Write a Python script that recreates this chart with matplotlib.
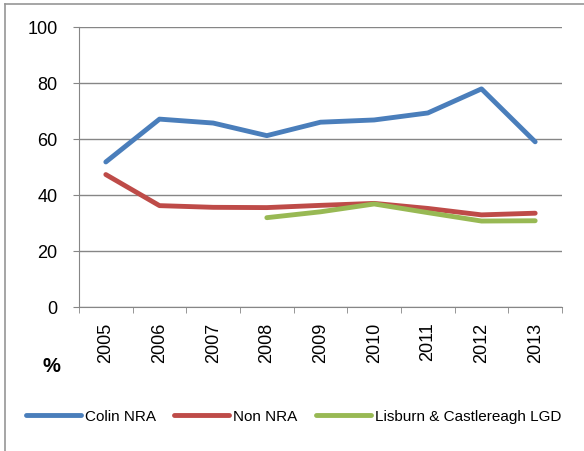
import numpy as np
import matplotlib
matplotlib.use("Agg")
import matplotlib.pyplot as plt
from matplotlib.lines import Line2D

years = ['2005', '2006', '2007', '2008', '2009', '2010', '2011', '2012', '2013']
colin_nra = [51.8, 67.1, 65.7, 61.2, 66, 66.8, 69.3, 77.9, 59]
non_nra = [47.3, 36.2, 35.6, 35.5, 36.3, 37, 35.2, 32.9, 33.5]
lisburn_years = ['2008', '2009', '2010', '2011', '2012', '2013']
lisburn = [31.9, 34, 36.8, 33.7, 30.7, 30.8]

plt.rcParams['font.family'] = ['Liberation Sans', 'DejaVu Sans']

fig = plt.figure(figsize=(5.84, 4.52), dpi=100)
# plot area in pixels: x 79..562, y 28..308
ax = fig.add_axes([79/584, 1-308/452, (562-79)/584, (308-28)/452])

x = np.arange(len(years))
xl = [years.index(y) for y in lisburn_years]

ax.plot(x, colin_nra, color='#4a7ebb', lw=3.5, solid_capstyle='round', label='Colin NRA')
ax.plot(x, non_nra, color='#be4b48', lw=3.5, solid_capstyle='round', label='Non NRA')
ax.plot(xl, lisburn, color='#98b954', lw=3.5, solid_capstyle='round', label='Lisburn & Castlereagh LGD')

ax.set_xlim(-0.5, len(years) - 0.5)
ax.set_ylim(0, 100)
ax.set_yticks([0, 20, 40, 60, 80, 100])
ax.grid(axis='y', color='#868686', lw=1)
ax.set_axisbelow(True)

ax.set_xticks(x)
ax.set_xticklabels(years, rotation=90)
ax.set_xticks(np.arange(-0.5, len(years)), minor=True)
ax.tick_params(axis='x', which='major', length=0, labelsize=13, pad=10.5)
ax.tick_params(axis='x', which='minor', length=4.5, color='#868686', direction='out')
ax.tick_params(axis='y', length=4.5, color='#868686', labelsize=13, pad=11)

for s in ['top', 'right']:
    ax.spines[s].set_visible(False)
for s in ['left', 'bottom']:
    ax.spines[s].set_color('#868686')

fig.text(51/584, 1-366/452, '%', fontsize=14.5, fontweight='bold', ha='center', va='center')

fig.legend(loc='center left', bbox_to_anchor=(26/584, 1-417/452), ncol=3, frameon=False,
           fontsize=11, handlelength=3.6, handletextpad=0.26, columnspacing=1.2,
           borderaxespad=0, borderpad=0)

fig.add_artist(Line2D([5/584, 5/584], [0, 1-5/452], color='#969696', lw=1.2))
fig.add_artist(Line2D([5/584, 1], [1-5/452, 1-5/452], color='#969696', lw=1.2))

fig.savefig('out.png', dpi=100)
